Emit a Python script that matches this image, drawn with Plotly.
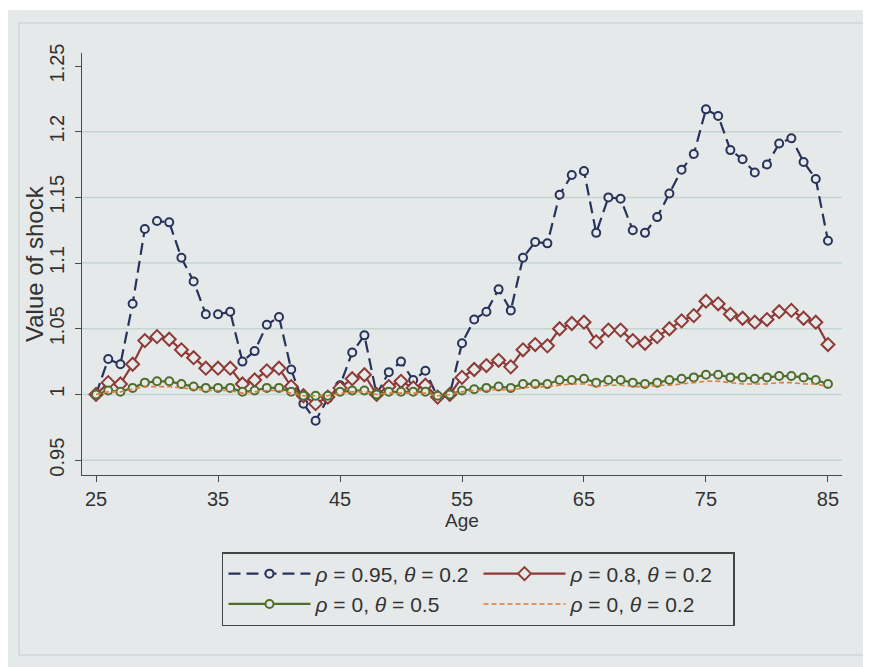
import plotly.graph_objects as go

ages = list(range(25, 86))

rho095_theta02 = [1.000, 1.027, 1.023, 1.069, 1.126, 1.132, 1.131, 1.104, 1.086, 1.061,
                  1.061, 1.063, 1.025, 1.033, 1.053, 1.059, 1.019, 0.993, 0.980, 0.997,
                  1.007, 1.032, 1.045, 1.000, 1.017, 1.025, 1.011, 1.018, 0.998, 1.000,
                  1.039, 1.057, 1.063, 1.080, 1.064, 1.104, 1.116, 1.115, 1.152, 1.167,
                  1.170, 1.123, 1.150, 1.149, 1.125, 1.123, 1.135, 1.153, 1.171, 1.183,
                  1.217, 1.212, 1.186, 1.179, 1.169, 1.175, 1.191, 1.195, 1.177, 1.164,
                  1.117]

rho08_theta02 = [1.000, 1.009, 1.008, 1.023, 1.041, 1.044, 1.042, 1.034, 1.028, 1.020,
                 1.020, 1.020, 1.008, 1.011, 1.018, 1.020, 1.006, 0.999, 0.993, 0.998,
                 1.005, 1.012, 1.015, 1.000, 1.006, 1.010, 1.005, 1.007, 0.998, 1.000,
                 1.013, 1.019, 1.022, 1.026, 1.021, 1.034, 1.038, 1.037, 1.050, 1.054,
                 1.055, 1.040, 1.049, 1.049, 1.041, 1.039, 1.044, 1.050, 1.056, 1.060,
                 1.071, 1.069, 1.061, 1.058, 1.055, 1.057, 1.063, 1.064, 1.058, 1.055,
                 1.038]

rho0_theta05 = [1.000, 1.003, 1.002, 1.005, 1.009, 1.010, 1.010, 1.008, 1.006, 1.005,
                1.005, 1.005, 1.002, 1.003, 1.005, 1.005, 1.002, 0.999, 0.999, 0.999,
                1.002, 1.003, 1.003, 1.000, 1.002, 1.002, 1.002, 1.002, 0.999, 1.000,
                1.003, 1.004, 1.005, 1.006, 1.005, 1.008, 1.008, 1.008, 1.011, 1.011,
                1.012, 1.009, 1.011, 1.011, 1.009, 1.008, 1.009, 1.011, 1.012, 1.013,
                1.015, 1.015, 1.013, 1.013, 1.012, 1.013, 1.014, 1.014, 1.013, 1.011,
                1.008]

rho0_theta02 = [1.000, 1.002, 1.002, 1.004, 1.006, 1.006, 1.006, 1.005, 1.004, 1.003,
                1.003, 1.003, 1.001, 1.002, 1.003, 1.003, 1.001, 0.999, 0.999, 0.999,
                1.001, 1.002, 1.002, 1.000, 1.001, 1.001, 1.001, 1.001, 0.999, 1.000,
                1.002, 1.003, 1.003, 1.004, 1.003, 1.005, 1.006, 1.006, 1.007, 1.008,
                1.008, 1.006, 1.007, 1.007, 1.006, 1.006, 1.007, 1.007, 1.008, 1.009,
                1.010, 1.010, 1.009, 1.008, 1.008, 1.008, 1.009, 1.009, 1.008, 1.008,
                1.006]

x_ticks = [25, 35, 45, 55, 65, 75, 85]
y_ticks = [0.95, 1.0, 1.05, 1.1, 1.15, 1.2, 1.25]
y_tick_text = ["0.95", "1", "1.05", "1.1", "1.15", "1.2", "1.25"]
grid_vals = [0.95, 1.0, 1.05, 1.1, 1.15, 1.2]

names = ["<i>ρ</i> = 0.95, <i>θ</i> = 0.2", "<i>ρ</i> = 0.8, <i>θ</i> = 0.2",
         "<i>ρ</i> = 0, <i>θ</i> = 0.5", "<i>ρ</i> = 0, <i>θ</i> = 0.2"]

BG = "#e6e9ea"
NAVY = "#27335a"
MAROON = "#8e3a36"
GREEN = "#4f6e2c"
ORANGE = "#e3793a"
AX = "#4a4a4a"
TXT = "#333333"

fig = go.Figure()
fig.add_trace(go.Scatter(x=ages, y=rho095_theta02, name=names[0], mode="lines+markers",
                         line=dict(color=NAVY, width=2.2, dash="12px,6px"),
                         marker=dict(symbol="circle", size=8, color=BG,
                                     line=dict(color=NAVY, width=2))))
fig.add_trace(go.Scatter(x=ages, y=rho08_theta02, name=names[1], mode="lines+markers",
                         line=dict(color=MAROON, width=2.2),
                         marker=dict(symbol="diamond", size=10, color=BG,
                                     line=dict(color=MAROON, width=2))))
fig.add_trace(go.Scatter(x=ages, y=rho0_theta05, name=names[2], mode="lines+markers",
                         line=dict(color=GREEN, width=2.2),
                         marker=dict(symbol="circle", size=8, color=BG,
                                     line=dict(color=GREEN, width=2))))
fig.add_trace(go.Scatter(x=ages, y=rho0_theta02, name=names[3], mode="lines",
                         line=dict(color=ORANGE, width=1.6, dash="5px,3px")))

# page offset: the browser body adds an 8px margin
OFF = 8
W, H = 871 - OFF, 667 - OFF
L, T = 82 - OFF, 53 - OFF
R = W - (842 - OFF)
B = H - (475 - OFF)
pw, ph = W - L - R, H - T - B

def px(xs):
    return (xs - OFF - L) / pw

def py(ys):
    return (H - B - (ys - OFF)) / ph

shapes = [
    dict(type="rect", xref="paper", yref="paper", x0=px(8), x1=px(880), y0=py(10), y1=py(680),
         fillcolor=BG, line=dict(width=0), layer="below"),
    dict(type="rect", xref="paper", yref="paper", x0=px(19), x1=px(866), y0=py(23), y1=py(655),
         fillcolor="rgba(0,0,0,0)", line=dict(color="#cfd5d5", width=1.5), layer="below"),
]
for g in grid_vals:
    shapes.append(dict(type="line", xref="paper", yref="y", x0=0, x1=1, y0=g, y1=g,
                       line=dict(color="#c3d6d2", width=1.5), layer="below"))

fig.update_layout(
    width=W, height=H,
    margin=dict(l=L, r=R, t=T, b=B, autoexpand=False),
    paper_bgcolor="white",
    plot_bgcolor="rgba(0,0,0,0)",
    font=dict(family="Liberation Sans, Arial, sans-serif", color=TXT),
    shapes=shapes,
    showlegend=True,
    legend=dict(
        orientation="h", x=0.5217, xanchor="center", y=py(552), yanchor="top",
        bgcolor=BG, bordercolor="#444444", borderwidth=1.5,
        font=dict(size=21, color=TXT),
        entrywidth=158, entrywidthmode="pixels", itemwidth=82,
        traceorder="normal",
    ),
    annotations=[dict(text="Value of shock", xref="paper", yref="paper", x=px(34), y=0.5,
                      xanchor="center", yanchor="middle", textangle=-90, showarrow=False,
                      font=dict(size=24, color=TXT))],
    xaxis=dict(
        range=[23.85, 86.15], tickvals=x_ticks, ticks="outside", ticklen=6,
        tickcolor=AX, tickwidth=1.2, showline=True, linecolor=AX, linewidth=1.2,
        showgrid=False, zeroline=False, tickfont=dict(size=20, color=TXT), automargin=False,
        title=dict(text="Age", font=dict(size=19, color=TXT), standoff=0),
    ),
    yaxis=dict(
        range=[0.9387, 1.2599], tickvals=y_ticks, ticktext=y_tick_text, ticks="outside",
        ticklen=6, tickcolor=AX, tickwidth=1.2, showline=True, linecolor=AX, linewidth=1.2,
        showgrid=False, zeroline=False, tickangle=-90, tickfont=dict(size=20, color=TXT),
        automargin=False, ticklabelstandoff=3,
    ),
)

fig.write_html("out.html")
